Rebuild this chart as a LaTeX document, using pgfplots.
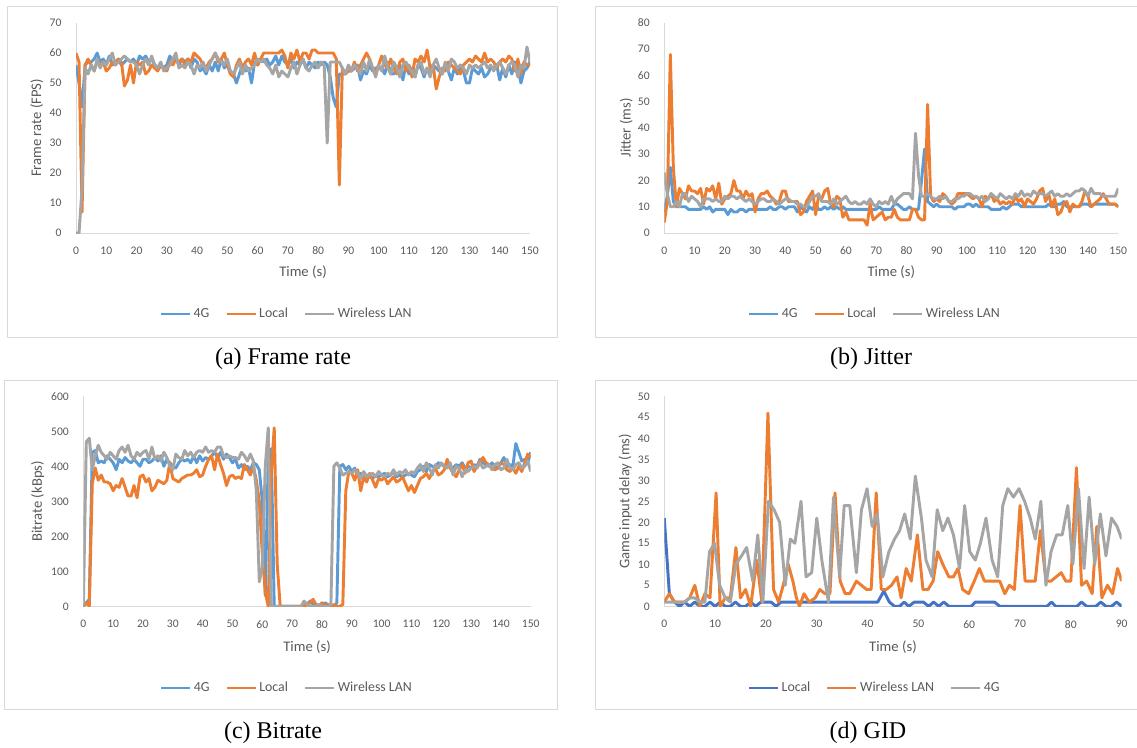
\documentclass[border=0pt]{standalone}
\usepackage{pgfplots}
\pgfplotsset{compat=1.18}
\usepackage{pgfplotstable}
\usepackage{fontspec}
\setmainfont{Carlito}
\newfontfamily\capfont{Liberation Serif}
\definecolor{cblue}{HTML}{5B9BD5}
\definecolor{corange}{HTML}{ED7D31}
\definecolor{cgray}{HTML}{A5A5A5}
\definecolor{cdblue}{HTML}{4472C4}
\definecolor{axgray}{HTML}{D9D9D9}
\definecolor{txgray}{HTML}{595959}

\pgfplotstableread{
t g l w
0 56 60 0
1 50 57 0
2 42 7 15
3 56 56 55
4 57 58 53
5 57 56 56
6 58 54 54
7 60 57 58
8 57 56 55
9 58 57 57
10 56 54 56
11 59 55 58
12 56 57 60
13 57 56 56
14 58 58 57
15 56 57 58
16 57 49 59
17 58 51 58
18 57 56 57
19 58 50 57
20 56 57 56
21 59 56 53
22 58 57 56
23 59 53 58
24 57 54 56
25 58 56 59
26 56 55 56
27 55 54 55
28 56 56 57
29 55 55 54
30 56 54 55
31 59 57 56
32 57 56 58
33 58 58 60
34 56 57 55
35 58 58 56
36 57 56 55
37 58 58 57
38 55 57 56
39 58 60 53
40 57 59 56
41 54 58 55
42 55 56 57
43 53 55 54
44 56 57 56
45 54 58 58
46 57 60 60
47 54 57 58
48 58 58 57
49 55 60 56
50 56 56 58
51 54 53 54
52 53 52 53
53 50 56 55
54 53 58 57
55 56 55 53
56 54 57 56
57 55 58 54
58 50 56 55
59 57 60 56
60 56 56 58
61 58 58 57
62 57 60 58
63 58 60 56
64 56 60 55
65 57 60 53
66 59 60 56
67 56 60 52
68 59 61 54
69 57 59 53
70 56 55 52
71 58 60 55
72 55 58 57
73 57 61 53
74 56 57 56
75 58 60 58
76 55 60 55
77 57 58 54
78 56 61 56
79 55 61 57
80 57 60 55
81 56 60 57
82 57 60 56
83 56 60 30
84 52 60 57
85 45 60 57
86 42 58 57
87 53 16 57
88 53 55 55
89 53 53 53
90 54 54 56
91 54 54 54
92 55 57 56
93 56 54 55
94 51 56 53
95 54 58 57
96 53 60 54
97 56 58 58
98 54 55 55
99 55 54 52
100 55 56 56
101 55 59 54
102 53 56 59
103 57 55 55
104 53 58 53
105 53 55 57
106 55 53 55
107 56 57 52
108 51 58 56
109 56 54 57
110 53 56 55
111 55 52 54
112 52 58 52
113 56 57 56
114 55 59 57
115 52 57 53
116 55 61 55
117 53 55 52
118 56 56 56
119 55 48 58
120 54 52 55
121 53 55 53
122 56 54 57
123 54 57 54
124 51 56 58
125 55 55 57
126 53 54 55
127 56 53 56
128 54 56 55
129 50 57 53
130 50 58 56
131 55 57 55
132 54 59 56
133 53 58 55
134 55 57 56
135 52 60 57
136 53 57 55
137 55 58 56
138 55 57 54
139 56 55 56
140 51 57 57
141 55 58 55
142 52 57 53
143 56 59 56
144 53 58 57
145 57 54 56
146 55 58 52
147 50 53 56
148 54 57 55
149 55 56 62
150 57 56 57
}\tabA

\pgfplotstableread{
t g l w
0 8 4 23
1 14 12 15
2 25 68 10
3 12 25 10
4 10 10 12
5 10 17 10
6 10 15 15
7 10 13 15
8 9 18 12
9 9 16 14
10 9 16 13
11 9 15 12
12 9 17 10
13 10 11 13
14 9 17 13
15 10 16 13
16 8 18 12
17 9 13 13
18 9 19 12
19 9 11 12
20 9 13 14
21 7 14 13
22 9 15 14
23 8 20 14
24 8 16 13
25 9 16 14
26 9 13 13
27 8 16 12
28 9 14 13
29 9 15 12
30 9 8 11
31 9 13 12
32 9 15 13
33 9 15 13
34 9 16 12
35 10 14 12
36 9 13 13
37 9 11 12
38 10 12 11
39 10 16 12
40 9 16 13
41 10 12 13
42 10 12 12
43 10 12 12
44 8 12 11
45 10 7 11
46 9 8 10
47 8 12 10
48 10 14 12
49 9 16 14
50 11 7 14
51 9 14 15
52 9 13 12
53 10 16 12
54 9 17 12
55 10 11 11
56 9 10 13
57 10 14 11
58 9 13 12
59 10 6 13
60 9 8 14
61 9 5 12
62 9 5 11
63 9 5 12
64 9 5 11
65 9 5 11
66 9 5 12
67 9 3 11
68 9 11 13
69 9 5 11
70 9 6 10
71 10 7 12
72 9 8 11
73 9 5 12
74 9 6 11
75 9 6 14
76 11 9 11
77 11 6 13
78 10 5 14
79 9 5 15
80 9 5 15
81 10 5 15
82 9 9 13
83 9 9 38
84 9 6 22
85 20 5 14
86 32 5 14
87 12 49 15
88 11 14 14
89 10 12 13
90 11 13 13
91 10 12 14
92 10 15 13
93 10 14 14
94 10 12 12
95 10 11 12
96 9 12 13
97 10 15 13
98 10 15 14
99 10 15 14
100 11 15 15
101 11 14 15
102 10 13 14
103 11 14 14
104 10 13 13
105 10 10 14
106 10 14 12
107 10 13 13
108 9 15 15
109 9 12 14
110 9 13 13
111 9 11 15
112 10 12 14
113 9 11 13
114 10 12 14
115 11 11 13
116 11 14 15
117 11 12 14
118 10 13 16
119 10 10 14
120 10 13 15
121 10 12 14
122 10 11 16
123 10 13 15
124 10 16 15
125 10 17 15
126 10 12 14
127 11 15 15
128 10 10 16
129 10 13 14
130 11 7 15
131 11 8 14
132 12 11 14
133 10 12 15
134 10 8 14
135 10 11 15
136 10 10 16
137 10 10 16
138 11 12 17
139 11 16 16
140 11 14 14
141 10 10 17
142 11 11 15
143 11 12 15
144 11 13 15
145 11 15 14
146 11 13 14
147 11 11 14
148 11 11 14
149 11 11 14
150 10 10 17
}\tabB

\pgfplotstableread{
t g l w
0 0 0 0
1 10 10 470
2 20 0 480
3 440 350 390
4 445 395 430
5 410 360 460
6 415 375 440
7 410 355 430
8 430 355 420
9 420 350 440
10 410 330 430
11 390 345 420
12 420 340 445
13 410 365 455
14 425 340 440
15 415 315 460
16 410 315 430
17 420 345 420
18 410 310 440
19 400 370 430
20 420 375 440
21 420 355 445
22 410 365 420
23 415 330 455
24 425 340 420
25 415 360 430
26 430 355 415
27 400 350 440
28 420 360 425
29 410 410 400
30 400 365 390
31 395 360 435
32 410 355 425
33 420 365 420
34 415 370 445
35 420 375 430
36 410 375 440
37 430 380 425
38 410 390 440
39 430 370 445
40 415 375 440
41 425 400 455
42 420 420 440
43 430 430 445
44 440 390 440
45 425 435 455
46 440 405 455
47 420 380 430
48 435 345 425
49 425 370 430
50 410 375 425
51 420 365 425
52 395 370 420
53 405 365 440
54 390 405 430
55 400 390 415
56 390 375 435
57 410 400 415
58 405 360 330
59 390 300 70
60 300 150 110
61 30 40 400
62 420 0 510
63 450 380 0
64 0 510 0
65 0 120 0
66 0 0 0
67 0 0 0
68 0 0 0
69 0 0 0
70 0 0 0
71 0 0 0
72 0 0 0
73 0 0 0
74 0 0 15
75 5 5 5
76 15 10 0
77 5 20 0
78 0 5 0
79 5 0 5
80 0 10 0
81 10 0 0
82 5 5 0
83 0 0 5
84 0 5 400
85 10 0 410
86 400 0 395
87 405 5 375
88 390 330 380
89 400 385 385
90 385 380 380
91 395 360 390
92 370 390 380
93 380 330 365
94 360 370 385
95 375 355 370
96 370 380 375
97 365 360 380
98 375 340 370
99 370 365 385
100 375 360 375
101 380 370 370
102 370 350 380
103 375 360 375
104 385 370 390
105 370 355 375
106 375 360 385
107 370 370 380
108 375 350 390
109 380 330 375
110 375 345 385
111 370 325 380
112 385 345 395
113 390 365 405
114 400 370 385
115 385 380 410
116 405 365 395
117 400 385 375
118 395 395 405
119 410 375 395
120 405 380 410
121 400 390 400
122 410 420 395
123 400 395 410
124 395 380 375
125 405 370 400
126 400 390 395
127 410 405 370
128 395 380 390
129 400 410 385
130 395 415 395
131 405 385 400
132 400 400 395
133 420 415 410
134 410 425 395
135 405 410 400
136 400 405 405
137 410 395 390
138 400 390 405
139 395 395 410
140 410 410 390
141 425 405 395
142 400 390 420
143 405 385 395
144 400 395 390
145 465 380 405
146 440 400 410
147 415 385 395
148 420 410 400
149 410 435 415
150 440 425 385
}\tabC

\pgfplotsset{
 panel/.style={
  scale only axis,
  height=157.5pt,
  axis lines=left,
  axis line style={-, draw=axgray, line width=0.75pt},
  major tick length=0pt,
  tick style={draw=none},
  ticklabel style={font=\fontsize{8.7}{10}\selectfont, text=txgray},
  /pgf/number format/assume math mode=true,
  xticklabel style={yshift=-6.9pt},
  yticklabel style={xshift=-7.4pt},
  label style={font=\fontsize{11}{13}\selectfont, text=txgray},
  xlabel={Time (s)},
  legend columns=3,
  legend style={draw=none, fill=none, font=\fontsize{10.4}{12}\selectfont, text=txgray, anchor=center,
    /tikz/every even column/.append style={column sep=10pt}},
  legend image code/.code={\draw[#1, line width=1.6pt] (0pt,0pt) -- (21.75pt,0pt);},
 },
 ser/.style={line width=2.2pt, line join=round, #1},
}

\begin{document}
\begin{tikzpicture}
\begin{scope}[x=0.75pt,y=-0.75pt]
\path[use as bounding box] (0,0) rectangle (1137,747);
\draw[axgray, line width=0.75pt] (7,6) rectangle (557,337);
\draw[axgray, line width=0.75pt] (595,6) rectangle (1145,337);
\draw[axgray, line width=0.75pt] (4,380) rectangle (557,709);
\draw[axgray, line width=0.75pt] (595,380) rectangle (1145,709);
\node[font=\capfont\fontsize{18}{20}\selectfont] at (283,359) {(a) Frame rate};
\node[font=\capfont\fontsize{18}{20}\selectfont] at (871,359) {(b) Jitter};
\node[font=\capfont\fontsize{18}{20}\selectfont] at (273,733) {(c) Bitrate};
\node[font=\capfont\fontsize{18}{20}\selectfont] at (868,733) {(d) GID};
\end{scope}

% (a)
\begin{axis}[panel, at={(57pt,-174.75pt)}, anchor=south west, width=340.5pt,
  xmin=0, xmax=150, ymin=0, ymax=70,
  xtick={0,10,...,150}, ytick={0,10,...,70},
  ylabel={Frame rate (FPS)},
  ylabel style={at={(axis description cs:-0.0866,0.5)}, anchor=center},
  xlabel style={at={(axis description cs:0.5,0)}, anchor=center, yshift=-29.25pt},
  legend style={at={(0.465,-0.386)}}]
\addplot[ser=cblue] table[x=t,y=g] {\tabA};
\addplot[ser=corange] table[x=t,y=l] {\tabA};
\addplot[ser=cgray] table[x=t,y=w] {\tabA};
\legend{4G,Local,Wireless LAN}
\end{axis}

% (b)
\begin{axis}[panel, at={(498.2pt,-174.75pt)}, anchor=south west, width=340.5pt,
  xmin=0, xmax=150, ymin=0, ymax=80,
  xtick={0,10,...,150}, ytick={0,10,...,80},
  ylabel={Jitter (ms)},
  ylabel style={at={(axis description cs:-0.0837,0.5)}, anchor=center},
  xlabel style={at={(axis description cs:0.5,0)}, anchor=center, yshift=-29.25pt},
  legend style={at={(0.4646,-0.386)}}]
\addplot[ser=cblue] table[x=t,y=g] {\tabB};
\addplot[ser=corange] table[x=t,y=l] {\tabB};
\addplot[ser=cgray] table[x=t,y=w] {\tabB};
\legend{4G,Local,Wireless LAN}
\end{axis}

% (c)
\begin{axis}[panel, at={(62.5pt,-454.7pt)}, anchor=south west, width=335.55pt,
  xmin=0, xmax=150, ymin=0, ymax=600,
  xtick={0,10,...,150}, ytick={0,100,...,600},
  ylabel={Bitrate (kBps)},
  ylabel style={at={(axis description cs:-0.1019,0.5)}, anchor=center},
  xlabel style={at={(axis description cs:0.5,0)}, anchor=center, yshift=-30.75pt},
  legend style={at={(0.4557,-0.389)}}]
\addplot[ser=cblue] table[x=t,y=g] {\tabC};
\addplot[ser=corange] table[x=t,y=l] {\tabC};
\addplot[ser=cgray] table[x=t,y=w] {\tabC};
\legend{4G,Local,Wireless LAN}
\end{axis}

% (d)
\begin{axis}[panel, at={(498.2pt,-454.7pt)}, anchor=south west, width=343.05pt,
  xmin=0, xmax=90, ymin=0, ymax=50,
  xtick={0,10,...,90}, ytick={0,5,...,50},
  ylabel={Game input delay (ms)},
  ylabel style={at={(axis description cs:-0.0853,0.5)}, anchor=center},
  xlabel style={at={(axis description cs:0.5,0)}, anchor=center, yshift=-30.75pt},
  legend style={at={(0.461,-0.389)}}]
\addplot[ser=cdblue] coordinates {(0,21)(1,3)(2,1)(3,0)(4,1)(5,0)(6,1)(7,0)(8,0)(9,1)(10,0)(11,1)(12,0)(13,0)(14,1)(15,0)(16,0)(17,1)(18,0)(19,1)(20,1)(21,1)(22,0)(23,1)(42,1)(43.2,3.6)(44.3,1)(45.3,0)(46.3,0)(47.2,1)(48.1,0)(49.2,1)(51,1)(52,0)(53,1)(54,0)(55,1)(56,0)(60.4,0)(61.2,1)(65,1)(66,0)(75.3,0)(76.2,1)(77,0)(81.2,0)(82.1,1)(83.1,0)(84.9,0)(85.9,1)(86.9,0)(88,0)(89,1)(90,0)};
\addplot[ser=corange] coordinates {(0,1)(1,3)(2,1)(3,1)(4,1)(5,2)(6,5)(7,0)(8,3)(9,2)(10.2,27)(11,0)(12,2)(13,2)(14.1,14)(15,2)(16,4)(17,0)(18.2,11)(19.2,1)(20.4,46)(21.5,4)(22.5,1)(23.4,5)(24.4,10)(25.3,6)(26,2)(26.6,0)(27.5,3)(28.5,1)(29.7,2)(30.6,4)(31.6,3)(32.6,3)(33.6,27)(34.6,6)(35.6,3)(36.5,3)(37.8,6)(38.8,5)(39.8,4)(40.7,4)(41.7,27)(42.7,4)(43.7,4)(44.7,5)(45.8,7)(46.6,2)(47.6,9)(48.6,6)(49.8,17)(50.9,4)(51.9,4)(52.9,6)(53.8,13)(54.8,10)(56,7)(56.9,7)(57.8,9)(58.7,4)(59.9,3)(61,6)(62,9)(63,6)(64,6)(65,6)(66,6)(67,3)(67.9,5)(68.9,4)(70,24)(71,6)(72,6)(73,6)(74,18)(75.1,6)(76.1,6)(77.1,7)(78.1,8)(79,6)(80,6)(81.1,33)(82.1,5)(83.1,6)(84.2,3)(85.1,19)(86.1,2)(87.2,5)(88.2,3)(89.2,9)(90,6)};
\addplot[ser=cgray] coordinates {(0,1)(1,1)(2,1)(3,1)(4,1)(5,2)(6,2)(7,1)(8,1)(8.9,13)(9.9,15)(10.9,5)(12,2)(13,1)(14.1,10)(15.2,12)(16.2,14)(17.4,6)(18.4,17)(19.4,1)(20.5,25)(21.6,23)(22.7,20)(23.8,5)(24.8,16)(25.7,15)(26.9,25)(27.9,7)(29,8)(30,21)(31,11)(32.3,1)(33.3,26)(34.5,7)(35.4,24)(36.5,24)(37.8,8)(38.8,23)(39.9,28)(40.9,19)(41.9,22)(43,7)(44.2,13)(45.3,16)(46.3,18)(47.3,22)(48.4,16)(49.4,31)(50.6,21)(51.5,11)(52.7,7)(53.7,23)(54.8,18)(55.8,21)(56.9,17)(58.1,9)(59.1,24)(60.1,13)(61.2,11)(62.2,15)(63.3,21)(64.5,11)(65.6,7)(66.6,24)(67.6,28)(68.7,26)(69.8,28)(70.9,25)(72,21)(73,16)(74.1,25)(75.1,5)(76.1,13)(77.2,17)(78.3,17)(79.4,24)(80.4,10)(81.5,28)(82.6,9)(83.6,26)(84.7,10)(85.8,22)(86.9,12)(88,21)(89.1,19)(90,16)};
\legend{Local,Wireless LAN,4G}
\end{axis}
\end{tikzpicture}
\end{document}
